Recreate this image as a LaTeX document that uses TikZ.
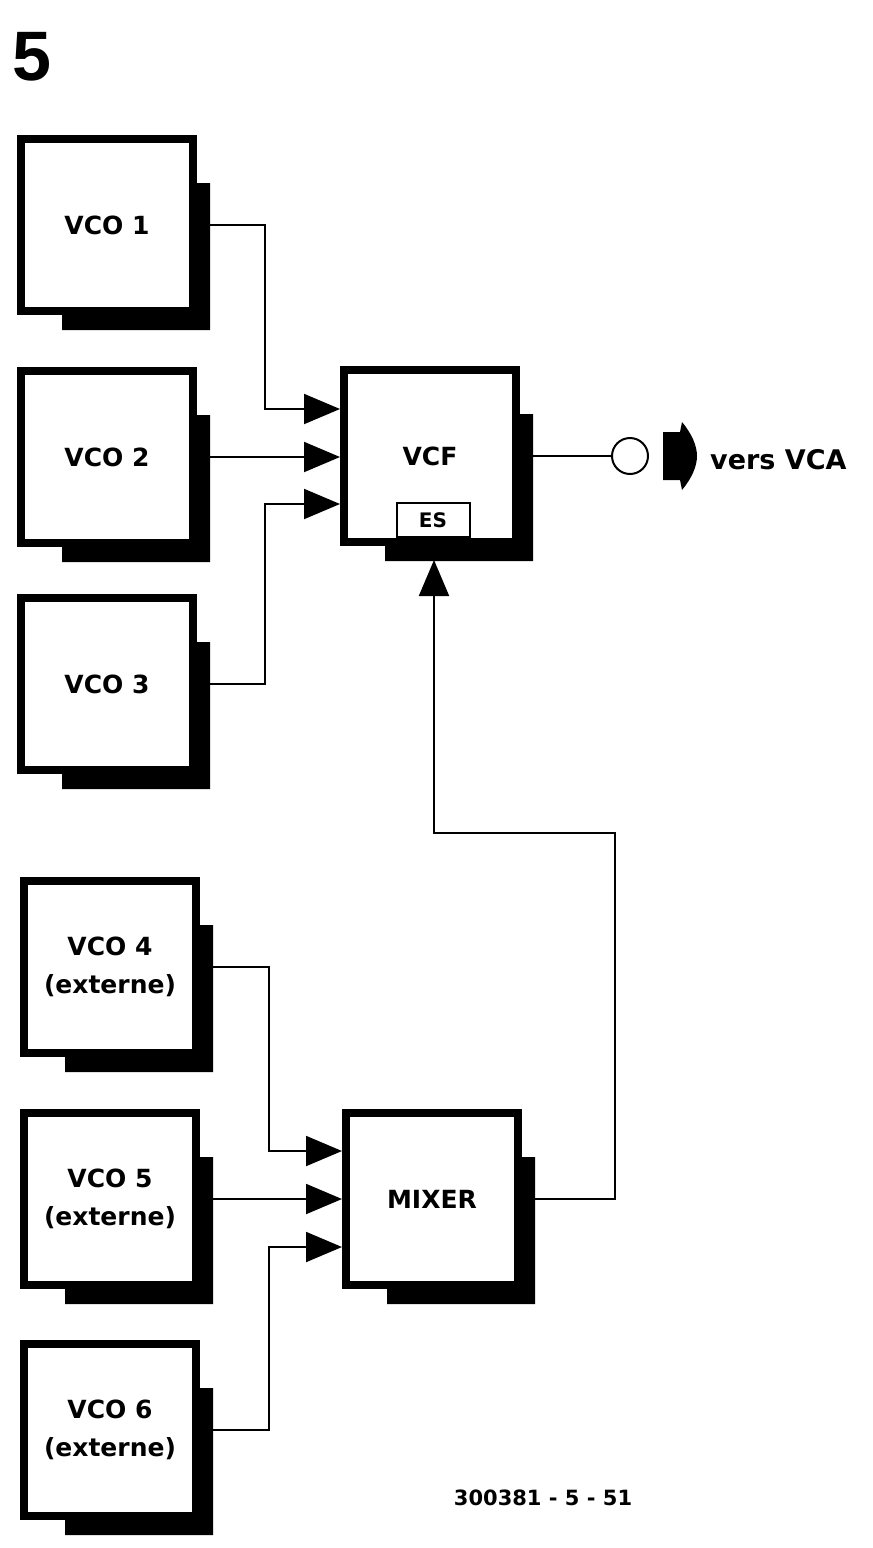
\documentclass[tikz,border=0pt]{standalone}
\usepackage{fontspec}
\setmainfont{DejaVu Sans}
\newfontfamily\titlefont{Liberation Sans}
\usetikzlibrary{positioning,calc,arrows.meta}
\tikzset{BLOCK/.style={rectangle,draw,line width=8pt,fill=white,minimum width=172pt,minimum height=172pt,inner sep=0pt,align=center,font=\bfseries\fontsize{25}{38}\selectfont}}
\tikzset{WIRE/.style={line width=2pt}}
\tikzset{ARROW/.style={line width=2pt,-{Triangle[length=36pt,width=30pt]}}}
\tikzset{LABEL/.style={inner sep=0pt,font=\bfseries\fontsize{27}{34}\selectfont}}

\begin{document}
\begin{tikzpicture}[x=1pt,y=-1pt]
\useasboundingbox (0,0) rectangle (873,1548);

\node[anchor=base west, inner sep=0pt, font=\titlefont\bfseries\fontsize{70}{70}\selectfont] (n_title) at (12,80) {5};

% upper group
\node[BLOCK] (n_vco1) at (107,225) {VCO 1};
\node[BLOCK, below=52pt of n_vco1] (n_vco2) {VCO 2};
\node[BLOCK, below=47pt of n_vco2] (n_vco3) {VCO 3};
\node[BLOCK] (n_vcf) at (430,456) {VCF};
\node[draw, line width=2pt, fill=white, minimum width=73pt, minimum height=34pt, inner sep=0pt, anchor=south, font=\bfseries\fontsize{20}{20}\selectfont] (n_es) at ($(n_vcf.south)+(3,-8)$) {ES};

% lower group
\node[BLOCK] (n_vco4) at (110,967) {VCO 4\\(externe)};
\node[BLOCK, below=52pt of n_vco4] (n_vco5) {VCO 5\\(externe)};
\node[BLOCK, below=51pt of n_vco5] (n_vco6) {VCO 6\\(externe)};
\node[BLOCK] (n_mixer) at (432,1199) {MIXER};

\coordinate (c_vcf_in1) at ($(n_vcf.west)+(0,-47)$);
\coordinate (c_vcf_in3) at ($(n_vcf.west)+(0,48)$);
\draw[ARROW] (n_vco1.east) -| ($(c_vcf_in1)+(-75,0)$) -- (c_vcf_in1);
\draw[ARROW] (n_vco2.east) -- (n_vco2.east -| n_vcf.west);
\draw[ARROW] (n_vco3.east) -| ($(c_vcf_in3)+(-75,0)$) -- (c_vcf_in3);

\coordinate (c_mix_in1) at ($(n_mixer.west)+(0,-48)$);
\coordinate (c_mix_in3) at ($(n_mixer.west)+(0,48)$);
\draw[ARROW] (n_vco4.east) -| ($(c_mix_in1)+(-73,0)$) -- (c_mix_in1);
\draw[ARROW] (n_vco5.east) -- (n_vco5.east -| n_mixer.west);
\draw[ARROW] (n_vco6.east) -| ($(c_mix_in3)+(-73,0)$) -- (c_mix_in3);

\coordinate (c_bend) at (615,833);
\coordinate (c_es_in) at ($(n_vcf.south)+(4,14)$);
\draw[ARROW] (n_mixer.east) -| (c_bend) -| (c_es_in);

% output
\node[circle, draw, line width=2pt, minimum size=36pt, inner sep=0pt] (n_jack) at (630,456) {};
\draw[WIRE] (n_vcf.east) -- (n_jack);
\coordinate (c_plug) at (663,456);
\begin{scope}[shift={(c_plug)}]
\fill (0,-24) -- (17,-24) -- (19,-34) .. controls (29,-22) and (34,-10) .. (34,0) .. controls (34,10) and (29,22) .. (19,34) -- (17,24) -- (0,24) -- cycle;
\end{scope}
\node[LABEL, anchor=west] (n_vca) at (710,460) {vers VCA};

% shadows
\foreach \n in {n_vco1,n_vco2,n_vco3,n_vco4,n_vco5,n_vco6,n_vcf,n_mixer}
  \fill ($(\n.north east)+(0,48)$) -- ++(13,0) -- ($(\n.south east)+(13,15)$) -- ($(\n.south west)+(45,15)$) -- ($(\n.south west)+(45,0)$) -- (\n.south east) -- cycle;

\node[anchor=base, inner sep=0pt, font=\bfseries\fontsize{21}{21}\selectfont] (n_code) at (543,1505) {300381 - 5 - 51};

\end{tikzpicture}
\end{document}
